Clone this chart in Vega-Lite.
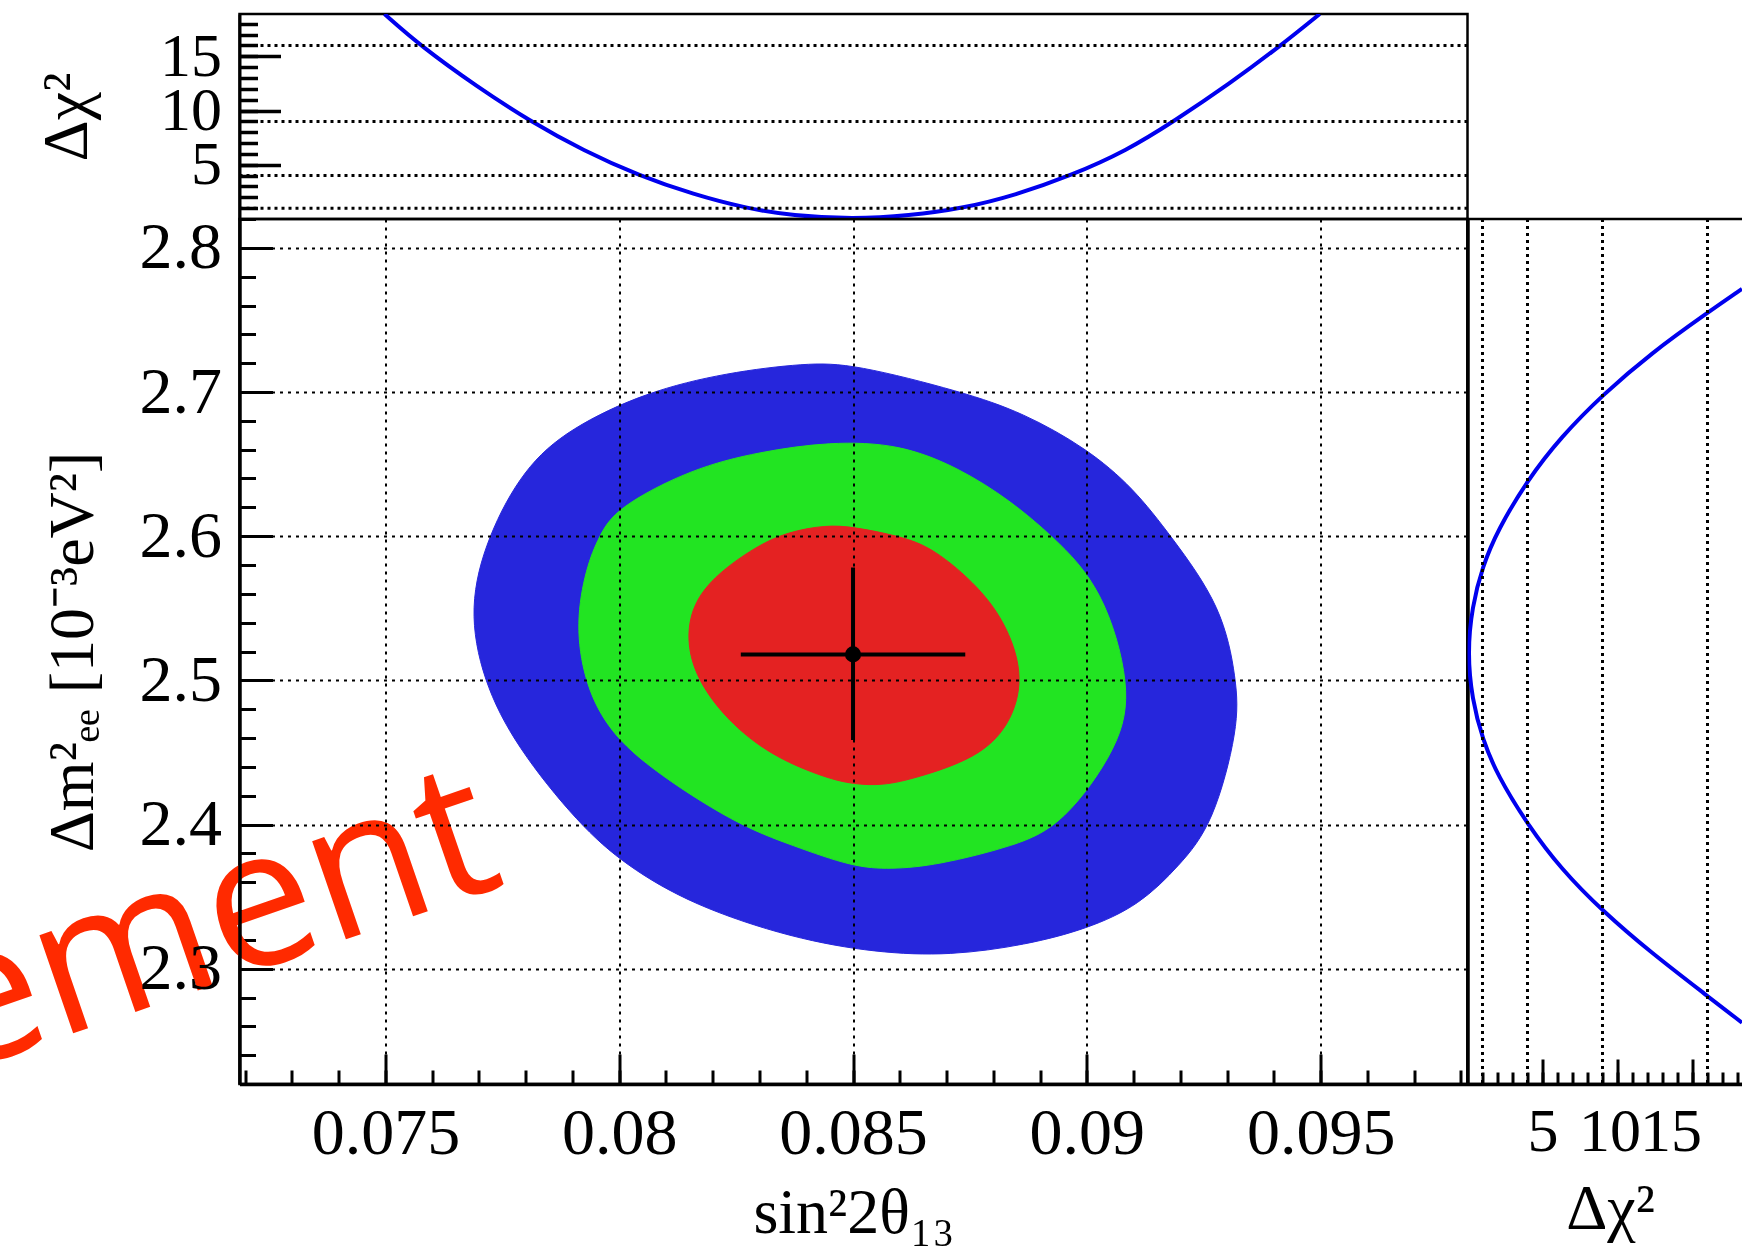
{
  "$schema": "https://vega.github.io/schema/vega-lite/v6.json",
  "padding": {"left": -97.5, "top": 12, "right": 0, "bottom": 0},
  "background": "white",
  "config": {
    "font": "Liberation Serif",
    "view": {"stroke": "black", "strokeWidth": 2.5},
    "concat": {"spacing": 0},
    "axis": {
      "labelFont": "Liberation Serif", "titleFont": "Liberation Serif",
      "labelFontSize": 66, "titleFontSize": 64, "titleFontWeight": "normal",
      "labelColor": "black", "titleColor": "black", "domainColor": "black", "tickColor": "black",
      "grid": false, "labelFlush": false, "labelOverlap": false
    }
  },
  "datasets": {
    "c3": [
      {"o": 1, "s": 0.0840, "d": 2.7201}, {"o": 2, "s": 0.0850, "d": 2.7195}, {"o": 3, "s": 0.08735, "d": 2.7000},
      {"o": 4, "s": 0.08863, "d": 2.6857}, {"o": 5, "s": 0.0900, "d": 2.6609}, {"o": 6, "s": 0.0910, "d": 2.6333},
      {"o": 7, "s": 0.0918, "d": 2.6000}, {"o": 8, "s": 0.09290, "d": 2.5507}, {"o": 9, "s": 0.09320, "d": 2.5000},
      {"o": 10, "s": 0.09325, "d": 2.4680}, {"o": 11, "s": 0.09270, "d": 2.4000}, {"o": 12, "s": 0.09198, "d": 2.3716},
      {"o": 13, "s": 0.09113, "d": 2.3441}, {"o": 14, "s": 0.0900, "d": 2.3275}, {"o": 15, "s": 0.0887, "d": 2.3165},
      {"o": 16, "s": 0.08707, "d": 2.3090}, {"o": 17, "s": 0.0855, "d": 2.3110}, {"o": 18, "s": 0.08371, "d": 2.3210},
      {"o": 19, "s": 0.08157, "d": 2.3441}, {"o": 20, "s": 0.08014, "d": 2.3716}, {"o": 21, "s": 0.07914, "d": 2.4000},
      {"o": 22, "s": 0.07779, "d": 2.4543}, {"o": 23, "s": 0.07708, "d": 2.5000}, {"o": 24, "s": 0.07678, "d": 2.5507},
      {"o": 25, "s": 0.07718, "d": 2.6000}, {"o": 26, "s": 0.07796, "d": 2.6471}, {"o": 27, "s": 0.07893, "d": 2.6747},
      {"o": 28, "s": 0.08057, "d": 2.7000}, {"o": 29, "s": 0.0823, "d": 2.7135}
    ],
    "c2": [
      {"o": 1, "s": 0.0845, "d": 2.6655}, {"o": 2, "s": 0.0860, "d": 2.6640}, {"o": 3, "s": 0.08728, "d": 2.6471},
      {"o": 4, "s": 0.08835, "d": 2.6250}, {"o": 5, "s": 0.08927, "d": 2.6000}, {"o": 6, "s": 0.09034, "d": 2.5645},
      {"o": 7, "s": 0.09096, "d": 2.4950}, {"o": 8, "s": 0.0907, "d": 2.4543}, {"o": 9, "s": 0.08949, "d": 2.4000},
      {"o": 10, "s": 0.08849, "d": 2.3854}, {"o": 11, "s": 0.08678, "d": 2.3716}, {"o": 12, "s": 0.0858, "d": 2.3690},
      {"o": 13, "s": 0.0850, "d": 2.3705}, {"o": 14, "s": 0.08371, "d": 2.3854}, {"o": 15, "s": 0.0825, "d": 2.4000},
      {"o": 16, "s": 0.08057, "d": 2.4405}, {"o": 17, "s": 0.07971, "d": 2.4680}, {"o": 18, "s": 0.07925, "d": 2.5000},
      {"o": 19, "s": 0.07907, "d": 2.5397}, {"o": 20, "s": 0.07929, "d": 2.5782}, {"o": 21, "s": 0.07957, "d": 2.6000},
      {"o": 22, "s": 0.07993, "d": 2.6196}, {"o": 23, "s": 0.08157, "d": 2.6471}, {"o": 24, "s": 0.0830, "d": 2.6585}
    ],
    "c1": [
      {"o": 1, "s": 0.08443, "d": 2.6077}, {"o": 2, "s": 0.0850, "d": 2.6065}, {"o": 3, "s": 0.0860, "d": 2.6000},
      {"o": 4, "s": 0.08671, "d": 2.5920}, {"o": 5, "s": 0.08771, "d": 2.5645}, {"o": 6, "s": 0.08831, "d": 2.5372},
      {"o": 7, "s": 0.08866, "d": 2.5014}, {"o": 8, "s": 0.08835, "d": 2.4680}, {"o": 9, "s": 0.08764, "d": 2.4460},
      {"o": 10, "s": 0.08635, "d": 2.4322}, {"o": 11, "s": 0.08564, "d": 2.4270}, {"o": 12, "s": 0.0850, "d": 2.4280},
      {"o": 13, "s": 0.08443, "d": 2.4322}, {"o": 14, "s": 0.08336, "d": 2.4460}, {"o": 15, "s": 0.08243, "d": 2.4680},
      {"o": 16, "s": 0.08164, "d": 2.5000}, {"o": 17, "s": 0.08140, "d": 2.5328}, {"o": 18, "s": 0.08171, "d": 2.5645},
      {"o": 19, "s": 0.08286, "d": 2.5920}, {"o": 20, "s": 0.0836, "d": 2.6030}
    ],
    "top": [
      {"s": 0.07498, "chi": 18.9}, {"s": 0.07574, "chi": 16}, {"s": 0.07696, "chi": 12.2}, {"s": 0.0781, "chi": 9},
      {"s": 0.07924, "chi": 6.3}, {"s": 0.08042, "chi": 4}, {"s": 0.0816, "chi": 2.25}, {"s": 0.0827, "chi": 1},
      {"s": 0.08371, "chi": 0.3}, {"s": 0.0850, "chi": 0}, {"s": 0.08619, "chi": 0.3}, {"s": 0.08737, "chi": 1},
      {"s": 0.08847, "chi": 2.2}, {"s": 0.08966, "chi": 4}, {"s": 0.09085, "chi": 6.3}, {"s": 0.09186, "chi": 9},
      {"s": 0.09305, "chi": 12.46}, {"s": 0.09415, "chi": 16}, {"s": 0.09498, "chi": 18.9}
    ],
    "right": [
      {"chi": 18.3, "d": 2.2625}, {"chi": 16, "d": 2.281}, {"chi": 12.25, "d": 2.311}, {"chi": 9, "d": 2.340},
      {"chi": 6.25, "d": 2.369}, {"chi": 4, "d": 2.400}, {"chi": 2, "d": 2.434}, {"chi": 1, "d": 2.459},
      {"chi": 0.3, "d": 2.487}, {"chi": 0, "d": 2.519}, {"chi": 0.3, "d": 2.551}, {"chi": 1, "d": 2.579},
      {"chi": 2, "d": 2.604}, {"chi": 4, "d": 2.639}, {"chi": 6.25, "d": 2.669}, {"chi": 9, "d": 2.698},
      {"chi": 12.25, "d": 2.727}, {"chi": 16, "d": 2.755}, {"chi": 18.3, "d": 2.7715}
    ],
    "lv": [{"lv": 1}, {"lv": 4}, {"lv": 9}, {"lv": 16}],
    "bf": [{"s": 0.0850, "sl": 0.0826, "sh": 0.0874, "d": 2.518, "dl": 2.4586, "dh": 2.5782}],
    "wm": [{"t": "ement", "s": 0.0713, "d": 2.331}]
  },
  "bounds": "flush",
  "spacing": 0,
  "vconcat": [
    {
      "width": 1228,
      "height": 205,
      "layer": [
        {
          "data": {"name": "top"},
          "mark": {"type": "line", "interpolate": "basis", "color": "#0000ee", "strokeWidth": 4, "clip": true},
          "encoding": {
            "x": {"field": "s", "type": "quantitative", "scale": {"domain": [0.07188, 0.09814], "nice": false, "zero": false}, "axis": null},
            "y": {"field": "chi", "type": "quantitative", "scale": {"domain": [0, 18.9], "nice": false, "zero": false},
              "axis": {"orient": "left", "values": [5, 10, 15], "tickSize": -41, "tickWidth": 3.5, "labelPadding": 59,
                "labelFontSize": 62, "domainWidth": 3, "title": "Δχ²", "titlePadding": 40, "minExtent": 100, "maxExtent": 100}}
          }
        },
        {
          "data": {"name": "lv"},
          "mark": {"type": "rule", "strokeDash": [3, 4], "strokeWidth": 3, "color": "black"},
          "encoding": {
            "y": {"field": "lv", "type": "quantitative", "scale": {"domain": [0, 18.9], "nice": false, "zero": false},
              "axis": {"orient": "left", "values": [1, 2, 3, 4, 5, 6, 7, 8, 9, 10, 11, 12, 13, 14, 15, 16, 17, 18],
                "tickSize": -18, "tickWidth": 3.5, "labels": false, "domain": false, "title": null}}
          }
        }
      ],
      "resolve": {"axis": {"y": "independent"}}
    },
    {
      "bounds": "flush",
      "spacing": 0,
      "hconcat": [
        {
          "width": 1228,
          "height": 865,
          "layer": [
            {
              "data": {"name": "c3"},
              "mark": {"type": "line", "interpolate": "basis-closed", "fill": "#2626dc", "stroke": "#2626dc", "strokeWidth": 1},
              "encoding": {
                "x": {"field": "s", "type": "quantitative", "scale": {"domain": [0.07188, 0.09814], "nice": false, "zero": false},
                  "axis": {"orient": "bottom", "values": [0.075, 0.08, 0.085, 0.09, 0.095], "format": ".3~f",
                    "tickSize": -30, "tickWidth": 3, "labelPadding": 47.5, "domainWidth": 3.5,
                    "title": "sin²2θ₁₃", "titlePadding": 15,
                    "grid": true, "gridDash": [3, 5], "gridWidth": 2, "gridColor": "black", "gridOpacity": 1, "zindex": 1}},
                "y": {"field": "d", "type": "quantitative", "scale": {"domain": [2.22, 2.82], "nice": false, "zero": false},
                  "axis": {"orient": "left", "values": [2.3, 2.4, 2.5, 2.6, 2.7, 2.8], "format": ".1f",
                    "tickSize": -33, "tickWidth": 3, "labelPadding": 51, "domainWidth": 3.5,
                    "title": "Δm²ₑₑ [10⁻³eV²]", "titlePadding": 34, "minExtent": 100, "maxExtent": 100,
                    "grid": true, "gridDash": [3, 5], "gridWidth": 2, "gridColor": "black", "gridOpacity": 1, "zindex": 1}},
                "order": {"field": "o", "type": "quantitative"}
              }
            },
            {
              "data": {"name": "c2"},
              "mark": {"type": "line", "interpolate": "basis-closed", "fill": "#22e422", "stroke": "#22e422", "strokeWidth": 1},
              "encoding": {
                "x": {"field": "s", "type": "quantitative", "scale": {"domain": [0.07188, 0.09814], "nice": false, "zero": false},
                  "axis": {"orient": "bottom", "values": [0.072, 0.073, 0.074, 0.075, 0.076, 0.077, 0.078, 0.079, 0.08, 0.081, 0.082, 0.083, 0.084, 0.085, 0.086, 0.087, 0.088, 0.089, 0.09, 0.091, 0.092, 0.093, 0.094, 0.095, 0.096, 0.097, 0.098],
                    "tickSize": -14, "tickWidth": 3, "labels": false, "domain": false, "title": null}},
                "y": {"field": "d", "type": "quantitative", "scale": {"domain": [2.22, 2.82], "nice": false, "zero": false},
                  "axis": {"orient": "left", "values": [2.22, 2.24, 2.26, 2.28, 2.3, 2.32, 2.34, 2.36, 2.38, 2.4, 2.42, 2.44, 2.46, 2.48, 2.5, 2.52, 2.54, 2.56, 2.58, 2.6, 2.62, 2.64, 2.66, 2.68, 2.7, 2.72, 2.74, 2.76, 2.78, 2.8, 2.82],
                    "tickSize": -16, "tickWidth": 3, "labels": false, "domain": false, "title": null, "minExtent": 100, "maxExtent": 100}},
                "order": {"field": "o", "type": "quantitative"}
              }
            },
            {
              "data": {"name": "c1"},
              "mark": {"type": "line", "interpolate": "basis-closed", "fill": "#e42222", "stroke": "#e42222", "strokeWidth": 1},
              "encoding": {
                "x": {"field": "s", "type": "quantitative", "scale": {"domain": [0.07188, 0.09814], "nice": false, "zero": false}, "axis": null},
                "y": {"field": "d", "type": "quantitative", "scale": {"domain": [2.22, 2.82], "nice": false, "zero": false}, "axis": null},
                "order": {"field": "o", "type": "quantitative"}
              }
            },
            {
              "data": {"name": "bf"},
              "mark": {"type": "rule", "strokeWidth": 4, "color": "black"},
              "encoding": {
                "x": {"field": "sl", "type": "quantitative", "axis": null},
                "x2": {"field": "sh"},
                "y": {"field": "d", "type": "quantitative", "axis": null}
              }
            },
            {
              "data": {"name": "bf"},
              "mark": {"type": "rule", "strokeWidth": 4, "color": "black"},
              "encoding": {
                "x": {"field": "s", "type": "quantitative", "axis": null},
                "y": {"field": "dl", "type": "quantitative", "axis": null},
                "y2": {"field": "dh"}
              }
            },
            {
              "data": {"name": "bf"},
              "mark": {"type": "circle", "size": 260, "color": "black", "opacity": 1},
              "encoding": {
                "x": {"field": "s", "type": "quantitative", "axis": null},
                "y": {"field": "d", "type": "quantitative", "axis": null}
              }
            },
            {
              "data": {"name": "wm"},
              "mark": {"type": "text", "font": "Open Sans", "fontSize": 194, "angle": 341, "color": "#ff2a00", "align": "center", "baseline": "middle"},
              "encoding": {
                "x": {"field": "s", "type": "quantitative", "axis": null},
                "y": {"field": "d", "type": "quantitative", "axis": null},
                "text": {"field": "t"}
              }
            }
          ],
          "resolve": {"axis": {"x": "independent", "y": "independent"}}
        },
        {
          "width": 285,
          "height": 865,
          "layer": [
            {
              "data": {"name": "right"},
              "mark": {"type": "line", "interpolate": "basis", "color": "#0000ee", "strokeWidth": 4, "clip": true},
              "encoding": {
                "x": {"field": "chi", "type": "quantitative", "scale": {"domain": [0, 19], "nice": false, "zero": false},
                  "axis": {"orient": "bottom", "values": [5, 10, 15], "tickSize": -25, "tickWidth": 3, "labelPadding": 42.5,
                    "labelFontSize": 62,
                    "labelOffset": {"condition": [{"test": "datum.value == 10", "value": -8}, {"test": "datum.value == 15", "value": -22}], "value": 0},
                    "domainWidth": 3.5, "title": "Δχ²", "titlePadding": 15}},
                "y": {"field": "d", "type": "quantitative", "scale": {"domain": [2.22, 2.82], "nice": false, "zero": false},
                  "axis": {"orient": "left", "domainWidth": 3.5, "ticks": false, "labels": false, "title": null}},
                "order": {"field": "d", "type": "quantitative"}
              }
            },
            {
              "data": {"name": "lv"},
              "mark": {"type": "rule", "strokeDash": [3, 4], "strokeWidth": 3, "color": "black"},
              "encoding": {
                "x": {"field": "lv", "type": "quantitative", "scale": {"domain": [0, 19], "nice": false, "zero": false},
                  "axis": {"orient": "bottom", "values": [1, 2, 3, 4, 5, 6, 7, 8, 9, 10, 11, 12, 13, 14, 15, 16, 17, 18],
                    "tickSize": -12, "tickWidth": 3, "labels": false, "domain": false, "title": null}}
              }
            }
          ],
          "resolve": {"axis": {"x": "independent"}}
        }
      ]
    }
  ]
}
